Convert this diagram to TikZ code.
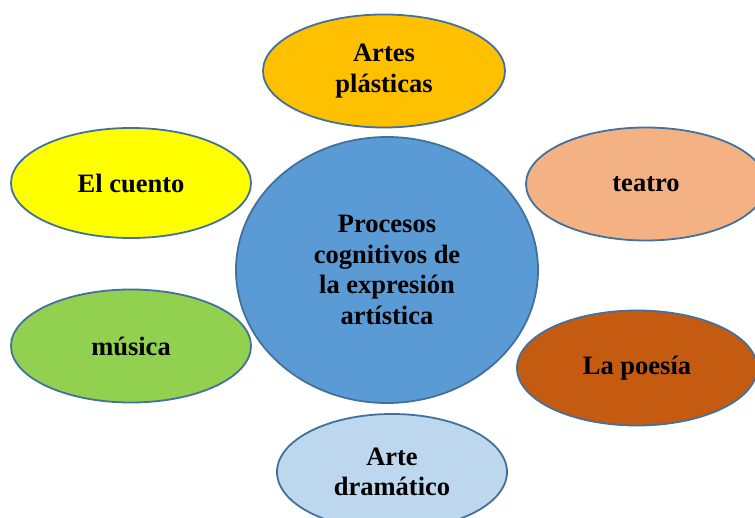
\documentclass[tikz,border=0pt]{standalone}
\usepackage{fontspec}
\setmainfont{Liberation Serif}
\usetikzlibrary{shapes.geometric}
\definecolor{bord}{HTML}{41719C}
\definecolor{cgold}{HTML}{FFC000}
\definecolor{cyel}{HTML}{FFFF00}
\definecolor{cpeach}{HTML}{F4B183}
\definecolor{cgreen}{HTML}{92D050}
\definecolor{crust}{HTML}{C55A11}
\definecolor{cpale}{HTML}{BDD7EE}
\definecolor{cblue}{HTML}{5B9BD5}
\tikzset{
  bub/.style={ellipse, draw=bord, line width=1.8pt, inner sep=0pt, align=center,
    font=\fontsize{26.5}{30.5}\selectfont\bfseries, text=black},
}
\begin{document}
\begin{tikzpicture}[x=1pt,y=-1pt]
\useasboundingbox (0,0) rectangle (755,518);
\clip (0,0) rectangle (755,518);
\fill[white] (0,0) rectangle (755,518);
\node[bub, fill=cblue, minimum width=302pt, minimum height=266pt] (c) at (387,270)
  {Procesos\\cognitivos de\\la expresión\\artística};
\node[bub, fill=cgold, minimum width=242pt, minimum height=113pt] (ap) at (384,71)
  {Artes\\plásticas};
\node[bub, fill=cyel, minimum width=240pt, minimum height=110pt] (ec) at (131,183)
  {El cuento};
\node[bub, fill=cgreen, minimum width=240pt, minimum height=113pt] (mu) at (131,346)
  {música};
\node[bub, fill=cpeach, minimum width=240pt, minimum height=113pt] (te) at (646,184)
  {teatro};
\node[bub, fill=crust, minimum width=240pt, minimum height=115pt] (lp) at (637,368)
  {La poesía};
\node[bub, fill=cpale, minimum width=230pt, minimum height=116pt] (ad) at (392,472)
  {Arte\\dramático};
\end{tikzpicture}
\end{document}
